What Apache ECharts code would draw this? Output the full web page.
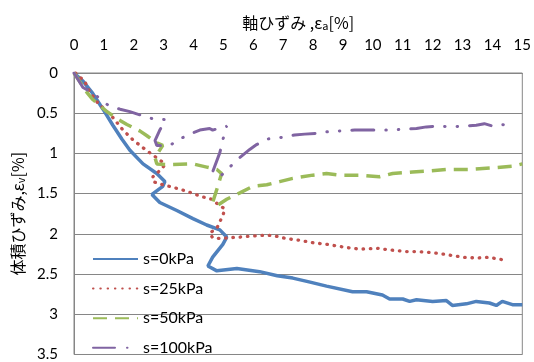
<!DOCTYPE html>
<html><head><meta charset="utf-8">
<script src="https://cdn.jsdelivr.net/npm/echarts@6/dist/echarts.min.js"></script>
<style>html,body{margin:0;padding:0;background:#fff}#c{width:534px;height:362px}</style>
</head><body><div id="c"></div>
<script>
const seriesNames = ['s=0kPa', 's=25kPa', 's=50kPa', 's=100kPa'];
const xTicks = {min: 0, max: 15, interval: 1};
const yTicks = {min: 0, max: 3.5, interval: 0.5};

const s0kPa = [[0,0],[0.3,0.1],[0.6,0.24],[0.97,0.45],[1.3,0.65],[1.6,0.82],[1.87,0.96],[2.31,1.13],[2.77,1.25],[3.04,1.35],[2.97,1.41],[2.61,1.51],[2.87,1.61],[3.44,1.71],[3.98,1.81],[4.44,1.89],[4.88,1.95],[5.11,2.04],[4.98,2.13],[4.64,2.29],[4.48,2.40],[4.78,2.46],[5.45,2.43],[6.21,2.47],[6.8,2.52],[7.32,2.55],[7.9,2.6],[8.45,2.65],[9.32,2.72],[9.79,2.72],[10.32,2.76],[10.56,2.81],[11.0,2.81],[11.23,2.84],[11.46,2.82],[12.0,2.84],[12.46,2.83],[12.66,2.89],[13.13,2.87],[13.46,2.84],[13.9,2.86],[14.13,2.89],[14.33,2.84],[14.67,2.88],[15.0,2.88]];

const s25kPa = [[0.05,0],[0.37,0.11],[0.47,0.2],[0.77,0.36],[1.27,0.54],[1.64,0.71],[1.97,0.83],[2.31,0.93],[2.64,1.02],[2.97,1.11],[3.04,1.14],[2.94,1.19],[2.64,1.29],[2.64,1.35],[2.97,1.39],[3.31,1.42],[3.78,1.47],[4.21,1.53],[4.61,1.57],[4.88,1.65],[5.05,1.69],[4.98,1.77],[4.78,1.93],[4.54,1.99],[4.48,2.01],[4.64,2.05],[4.98,2.06],[5.11,2.05],[5.55,2.04],[6.21,2.02],[6.65,2.02],[7.12,2.06],[7.55,2.08],[7.99,2.11],[8.45,2.13],[9.12,2.17],[9.56,2.19],[10.16,2.18],[10.56,2.2],[11.13,2.22],[11.49,2.22],[11.89,2.23],[12.33,2.25],[12.66,2.27],[13.0,2.29],[13.46,2.3],[13.9,2.29],[14.13,2.31],[14.5,2.33]];

const s50kPa = [[0,0],[0.43,0.24],[0.63,0.33],[1.1,0.48],[1.54,0.59],[1.77,0.64],[2.2,0.72],[2.44,0.78],[2.77,0.87],[2.97,0.9],[2.71,1.05],[2.77,1.13],[3.2,1.14],[3.98,1.13],[4.44,1.17],[4.78,1.2],[4.94,1.25],[4.81,1.41],[4.64,1.61],[4.78,1.65],[5.11,1.57],[5.55,1.49],[5.98,1.41],[6.45,1.39],[6.88,1.35],[7.32,1.31],[7.99,1.27],[8.45,1.25],[8.89,1.27],[9.56,1.27],[10.22,1.29],[10.66,1.25],[11.33,1.23],[11.79,1.22],[12.46,1.2],[13.23,1.2],[14.0,1.18],[14.67,1.16],[15.0,1.13]];

const s100kPa = [[0,0],[0.3,0.18],[0.6,0.24],[1.14,0.4],[1.54,0.45],[1.87,0.48],[2.2,0.52],[2.64,0.57],[3.07,0.58],[2.87,0.71],[2.71,0.84],[2.77,0.9],[3.21,0.9],[3.54,0.82],[3.94,0.75],[4.21,0.71],[4.54,0.69],[4.64,0.71],[5.11,0.66],[4.98,0.83],[4.88,0.99],[4.64,1.23],[4.91,1.28],[5.21,1.17],[5.55,1.05],[5.88,0.95],[6.11,0.89],[6.48,0.82],[6.95,0.8],[7.38,0.77],[7.72,0.76],[8.12,0.75],[8.49,0.73],[8.95,0.72],[9.39,0.71],[9.79,0.71],[10.16,0.71],[10.56,0.71],[10.99,0.7],[11.46,0.69],[11.79,0.67],[12.13,0.66],[12.63,0.67],[13.0,0.66],[13.46,0.65],[13.73,0.63],[14.0,0.66],[14.26,0.64],[14.67,0.65]];

const latin = 'Lato, "Noto Sans CJK JP", sans-serif';
const jp = '"Noto Sans CJK JP", sans-serif';
const colors = ['#4F81BD', '#C0504D', '#9BBB59', '#8064A2'];

const chart = echarts.init(document.getElementById('c'), null, {renderer: 'canvas'});
const mk = (name, data, color, type, width, cap) => ({
  name, type: 'line', data, symbol: 'none', showSymbol: false, smooth: false,
  lineStyle: {color, type, width, cap}, itemStyle: {color}
});
const legends = seriesNames.map((n, i) => ({
  orient: 'vertical', left: 92, top: 251 + i * 29.6, padding: 0,
  itemWidth: 45, itemHeight: 14, itemGap: 4,
  itemStyle: {opacity: 0},
  textStyle: {fontFamily: latin, fontSize: 16, color: '#000'},
  data: [n]
}));
chart.setOption({
  animation: false,
  grid: {left: 74, right: 11, top: 73, height: 290.5, show: true, borderColor: '#868686', borderWidth: 1, containLabel: false},
  xAxis: {
    type: 'value', position: 'top', min: xTicks.min, max: xTicks.max, interval: xTicks.interval,
    name: '軸ひずみ ,ε{sub|a}[%]', nameLocation: 'middle', nameGap: 42,
    nameTextStyle: {fontFamily: jp, fontSize: 16, color: '#000', rich: {sub: {fontSize: 11, verticalAlign: 'bottom', padding: [6,0,0,0], fontFamily: jp, color: '#000'}}},
    axisLine: {show: true, lineStyle: {color: '#868686'}}, axisTick: {show: false},
    axisLabel: {fontFamily: latin, fontSize: 15, color: '#000', margin: 20},
    splitLine: {show: false}
  },
  yAxis: {
    type: 'value', inverse: true, min: yTicks.min, max: yTicks.max, interval: yTicks.interval,
    name: '体積ひずみ,ε{sub|v}[%]', nameLocation: 'middle', nameGap: 42, nameRotate: 90,
    nameTextStyle: {fontFamily: jp, fontSize: 16, color: '#000', rich: {sub: {fontSize: 11, verticalAlign: 'bottom', padding: [6,0,0,0], fontFamily: jp, color: '#000'}}},
    axisLine: {show: true, lineStyle: {color: '#868686'}}, axisTick: {show: false},
    axisLabel: {fontFamily: latin, fontSize: 15, color: '#000', margin: 16},
    splitLine: {show: true, lineStyle: {color: '#868686', width: 1}}
  },
  legend: legends,
  series: [
    mk(seriesNames[0], s0kPa, colors[0], 'solid', 3.5, 'butt'),
    mk(seriesNames[1], s25kPa, colors[1], [0.5, 6.8], 3.3, 'round'),
    mk(seriesNames[2], s50kPa, colors[2], [14, 8], 3.5, 'butt'),
    mk(seriesNames[3], s100kPa, colors[3], [22, 12, 0.5, 12, 0.5, 12], 3, 'round')
  ]
});
</script></body></html>
